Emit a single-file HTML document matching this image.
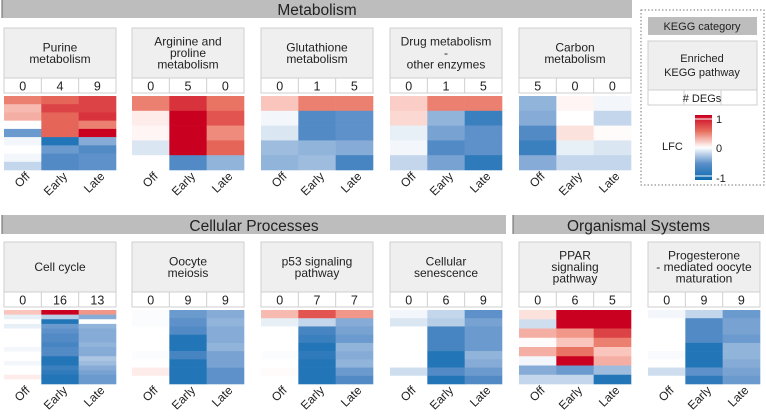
<!DOCTYPE html>
<html><head><meta charset="utf-8"><style>
html,body{margin:0;padding:0;background:#fff;width:766px;height:416px;overflow:hidden}
text{font-family:"Liberation Sans",sans-serif;fill:#222}
</style></head><body>
<svg id="fig" width="766" height="416" viewBox="0 0 766 416" xmlns="http://www.w3.org/2000/svg">
<defs><linearGradient id="cbar" x1="0" y1="0" x2="0" y2="1">
<stop offset="0" stop-color="#ca0020"/><stop offset="0.25" stop-color="#e8705f"/><stop offset="0.5" stop-color="#ffffff"/><stop offset="0.75" stop-color="#5a8ec8"/><stop offset="1" stop-color="#0a6aae"/>
</linearGradient></defs>
<g id="cats"></g><g id="panels"></g>
<g>
<rect x="641" y="10" width="123" height="175" fill="none" stroke="#777" stroke-dasharray="1.5,2"/>
<rect x="648" y="17" width="109" height="18" fill="#bdbdbd"/>
<text x="702" y="30" font-size="11" text-anchor="middle">KEGG category</text>
<rect x="648" y="41" width="109" height="49" fill="#efefef" stroke="#cfcfcf"/>
<text x="702" y="62" font-size="11" text-anchor="middle">Enriched</text>
<text x="702" y="76" font-size="11" text-anchor="middle">KEGG pathway</text>
<rect x="648" y="90" width="109" height="15" fill="#fff" stroke="#cfcfcf"/>
<line x1="684" y1="90" x2="684" y2="105" stroke="#cfcfcf"/><line x1="721" y1="90" x2="721" y2="105" stroke="#cfcfcf"/>
<text x="702" y="102" font-size="11" text-anchor="middle"># DEGs</text>
<rect x="695" y="115" width="17" height="65" fill="url(#cbar)"/>
<line x1="695" y1="119" x2="712" y2="119" stroke="#fff"/><line x1="695" y1="176" x2="712" y2="176" stroke="#fff"/>
<text x="716" y="123" font-size="11">1</text><text x="716" y="152" font-size="11">0</text><text x="716" y="182" font-size="11">-1</text>
<text x="662" y="150" font-size="11">LFC</text>
</g>
</svg>
<script>
const categories=[
 {name:"Metabolism",x:2,y:0,w:630,h:18},
 {name:"Cellular   Processes",x:2,y:215,w:504,h:19},
 {name:"Organismal   Systems",x:513,y:215,w:251,h:19}];
const pathwayNames=[["Purine","metabolism"],["Arginine and","proline","metabolism"],["Glutathione","metabolism"],["Drug metabolism","-","other enzymes"],["Carbon","metabolism"],
 ["Cell cycle"],["Oocyte","meiosis"],["p53 signaling","pathway"],["Cellular","senescence"],["PPAR","signaling","pathway"],["Progesterone","- mediated oocyte","maturation"]];
const degCounts=[[0,4,9],[0,5,0],[0,1,5],[0,1,5],[5,0,0],[0,16,13],[0,9,9],[0,7,7],[0,6,9],[0,6,5],[0,9,9]];
const stages=["Off","Early","Late"];
const lfcOff=[
 [0.6,0.35,0.4,0,-0.6,-0.05,0,-0.05,-0.25],
 [0.6,0.1,0.05,-0.15,0],
 [0.3,-0.05,-0.15,-0.4,-0.45],
 [0.25,0.2,-0.1,-0.05,-0.25],
 [-0.45,-0.5,-0.7,-0.8,-0.5],
 [0.3,-0.1,0,-0.1,0,0,0,0,-0.05,0,0,-0.05,0,0,0.1,0],
 [-0.02,-0.02,0,0,0,-0.02,0,0.1,0],
 [0.35,-0.1,0,0,0,-0.02,0,0.02,0],
 [-0.05,-0.15,0,0,0,0,0,-0.2,0],
 [0.15,-0.2,0.4,0.02,0.4,-0.05,-0.5,-0.25],
 [-0.05,0,0,0,0,-0.03,0,-0.2,0]];
const lfcEarly=[
 [0.7,0.8,0.7,0.7,0.7,-0.9,-0.6,-0.7,-0.7],
 [0.85,1,1,1,-0.7],
 [0.6,-0.7,-0.7,-0.45,-0.4],
 [0.6,-0.45,-0.55,-0.7,-0.55],
 [0.05,0,0.15,-0.1,-0.25],
 [1,-0.3,-0.9,-0.6,-0.65,-0.7,-0.7,-0.75,-0.7,-0.7,-0.9,-0.9,-0.8,-0.85,-0.9,-0.9],
 [-0.6,-0.65,-0.7,-0.9,-0.9,-0.75,-0.9,-0.9,-0.9],
 [0.75,-0.25,-0.75,-0.8,-0.9,-0.85,-0.9,-0.9,-0.9],
 [-0.25,-0.3,-0.75,-0.75,-0.75,-0.9,-0.9,-0.7,-0.9],
 [1,1,0.5,0.3,0.65,1,-0.6,-0.25],
 [-0.25,-0.7,-0.7,-0.7,-0.9,-0.9,-0.9,-0.65,-0.85]];
const lfcLate=[
 [0.8,0.8,0.85,0.6,1,-0.5,-0.7,-0.65,-0.65],
 [0.65,0.75,0.55,0.7,-0.45],
 [0.6,-0.65,-0.65,-0.5,-0.75],
 [0.6,-0.8,-0.65,-0.65,-0.85],
 [-0.05,-0.25,0.02,-0.15,-0.25],
 [0.5,-0.5,0,-0.45,-0.5,-0.5,-0.5,-0.45,-0.5,-0.5,-0.35,-0.4,-0.5,-0.55,-0.6,-0.6],
 [-0.5,-0.45,-0.5,-0.5,-0.45,-0.55,-0.55,-0.65,-0.65],
 [0.5,-0.5,-0.55,-0.6,-0.45,-0.5,-0.45,-0.6,-0.7],
 [-0.65,-0.55,-0.6,-0.6,-0.6,-0.45,-0.5,-0.6,-0.7],
 [1,1,0.8,0.6,0.3,0.4,-0.4,-0.9],
 [-0.6,-0.55,-0.55,-0.6,-0.45,-0.45,-0.5,-0.55,-0.6]];

const NS="http://www.w3.org/2000/svg";
function mk(tag,attrs,parent){const e=document.createElementNS(NS,tag);for(const k in attrs)e.setAttribute(k,attrs[k]);parent.appendChild(e);return e;}
const redStops=[[255,255,255],[248,190,180],[232,112,95],[202,0,32]];
const blueStops=[[255,255,255],[175,200,228],[90,142,200],[10,106,174]];
function color(v){v=Math.max(-1,Math.min(1,v));const st=v>=0?redStops:blueStops;const p=Math.abs(v)*3;const i=Math.min(2,Math.floor(p)),f=p-i;
 const c=[0,1,2].map(j=>Math.round(st[i][j]+(st[i+1][j]-st[i][j])*f));return `rgb(${c[0]},${c[1]},${c[2]})`;}
const cg=document.getElementById('cats');
categories.forEach(c=>{
 const g=mk('g',{},cg);
 
 
 mk('rect',{x:c.x,y:c.y,width:c.w,height:c.h,fill:'#bdbdbd'},g);
 mk('line',{x1:c.x,y1:c.y,x2:c.x,y2:c.y+c.h,stroke:'#666','stroke-width':1},g);
 const t=mk('text',{x:c.x+c.w/2,y:c.y+c.h-3,'font-size':15.5,'text-anchor':'middle','xml:space':'preserve'},g);t.textContent=c.name;
});
const pg=document.getElementById('panels');
const colX=[4,132,261,390,519,648];
pathwayNames.forEach((nm,i)=>{
 const row=i<5?0:1, x=colX[row?i-5:i], w=112;
 const top=row?242:28, hdrH=50, cntY=top+hdrH, cntH=15, hmY=cntY+18, hmH=74;
 const g=mk('g',{},pg);
 
 
 mk('rect',{x:x,y:top,width:w,height:hdrH,fill:'#efefef',stroke:'#cfcfcf'},g);
 const lh=11.5, y0=top+hdrH/2-(nm.length-1)*lh/2+4;
 nm.forEach((l,j)=>{const t=mk('text',{x:x+w/2,y:y0+j*lh,'font-size':12,'text-anchor':'middle','xml:space':'preserve'},g);t.textContent=l;});
 const cw=w/3;
 mk('rect',{x:x,y:cntY,width:w,height:cntH,fill:'#fff',stroke:'#cfcfcf'},g);
 for(let k=0;k<3;k++){
  if(k>0) mk('line',{x1:x+k*cw,y1:cntY,x2:x+k*cw,y2:cntY+cntH,stroke:'#cfcfcf'},g);
  const t=mk('text',{x:x+k*cw+cw/2,y:cntY+12.5,'font-size':12.5,'text-anchor':'middle'},g);
  
  
  t.textContent=degCounts[i][k];
 }
 const series=[lfcOff[i],lfcEarly[i],lfcLate[i]];
 const n=series[0].length, rh=hmH/n;
 series.forEach((vals,k)=>vals.forEach((v,r)=>{
  const rc=mk('rect',{x:x+k*cw,y:hmY+r*rh,width:cw+0.3,height:rh+0.3,fill:color(v)},g);
  
  
 }));
 stages.forEach((s,k)=>{
  const cx=x+k*cw+cw/2+8, cy=hmY+hmH+7;
  const t=mk('text',{x:cx,y:cy,'font-size':12,'text-anchor':'end',transform:`rotate(-45 ${cx} ${cy})`},g);
  
  
  t.textContent=s;
 });
});
</script>
</body></html>
